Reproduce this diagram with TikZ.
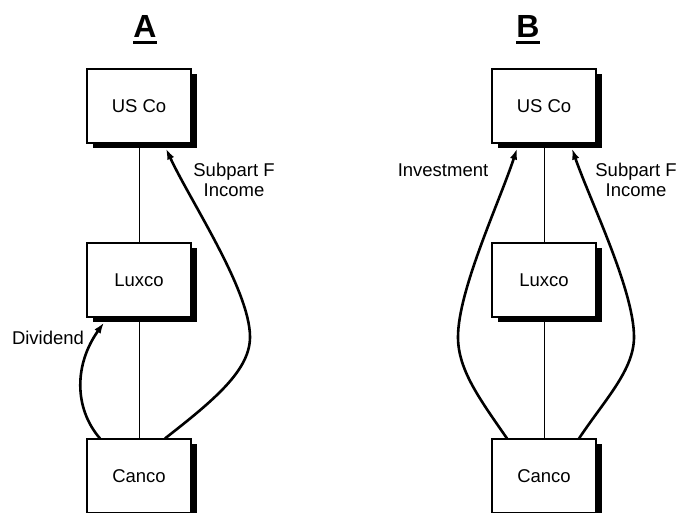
\documentclass[tikz,border=0pt]{standalone}
\usepackage{fontspec}
\setmainfont{Liberation Sans}
\usetikzlibrary{positioning, shadows, arrows.meta}

\begin{document}
\begin{tikzpicture}[x=1pt, y=-1pt, node distance=174pt, on grid,
    entity/.style={draw, fill=white, line width=1.1pt, minimum width=104pt,
      minimum height=74pt, inner sep=0pt, font=\fontsize{18.5}{21}\selectfont,
      drop shadow={shadow xshift=6pt, shadow yshift=-4.5pt, opacity=1, fill=black}},
    title/.style={inner sep=0pt, anchor=base, font=\fontsize{32}{36}\selectfont\bfseries},
    tag/.style={align=center, inner sep=0pt, font=\fontsize{18.5}{20}\selectfont},
    link/.style={line width=1pt},
    flow/.style={-{Latex[length=11pt,width=7.5pt]}, line width=2.6pt}]

   \useasboundingbox (0,0) rectangle (676,512);

   % titles
   \node[title] (titA) at (145,37) {A};
   \node[title] (titB) at (528,37) {B};
   \draw[line width=3pt] ([yshift=-5pt]titA.base west) -- ([yshift=-5pt]titA.base east);
   \draw[line width=3pt] ([yshift=-5pt]titB.base west) -- ([yshift=-5pt]titB.base east);

   % structure A
   \node[entity] (usA) at (139,106) {US Co};
   \node[entity] (luxA) [below=of usA] {Luxco};
   \node[entity] (canA) [below=196pt of luxA] {Canco};

   % structure B
   \node[entity] (usB) [right=405pt of usA] {US Co};
   \node[entity] (luxB) [below=of usB] {Luxco};
   \node[entity] (canB) [below=196pt of luxB] {Canco};

   \draw[link] (usA) -- (luxA) -- (canA);
   \draw[link] (usB) -- (luxB) -- (canB);

   \coordinate (bulgeA) at (250,337);
   \coordinate (bulgeBl) at (458,337);
   \coordinate (bulgeBr) at (634,337);

   \draw[flow] ([xshift=-39pt]canA.north) .. controls +(-26,-30) and +(-30,42) .. ([xshift=-35pt,yshift=-5pt]luxA.south);
   \draw[flow] ([xshift=26pt]canA.north) .. controls +(50,-39) and +(0,33) .. (bulgeA)
      .. controls +(0,-47) and +(24,52) .. ([xshift=27pt,yshift=-5pt]usA.south);
   \draw[flow] ([xshift=-37pt]canB.north) .. controls +(-27,-39) and +(0,33) .. (bulgeBl)
      .. controls +(0,-47) and +(-17,52) .. ([xshift=-27pt,yshift=-5pt]usB.south);
   \draw[flow] ([xshift=35pt]canB.north) .. controls +(26,-39) and +(0,33) .. (bulgeBr)
      .. controls +(0,-47) and +(18,52) .. ([xshift=28pt,yshift=-5pt]usB.south);

   \node[tag] (divA) at (48,338) {Dividend};
   \node[tag] (subA) at (234,180) {Subpart F\\Income};
   \node[tag] (invB) at (443,170) {Investment};
   \node[tag] (subB) at (636,180) {Subpart F\\Income};

\end{tikzpicture}
\end{document}
